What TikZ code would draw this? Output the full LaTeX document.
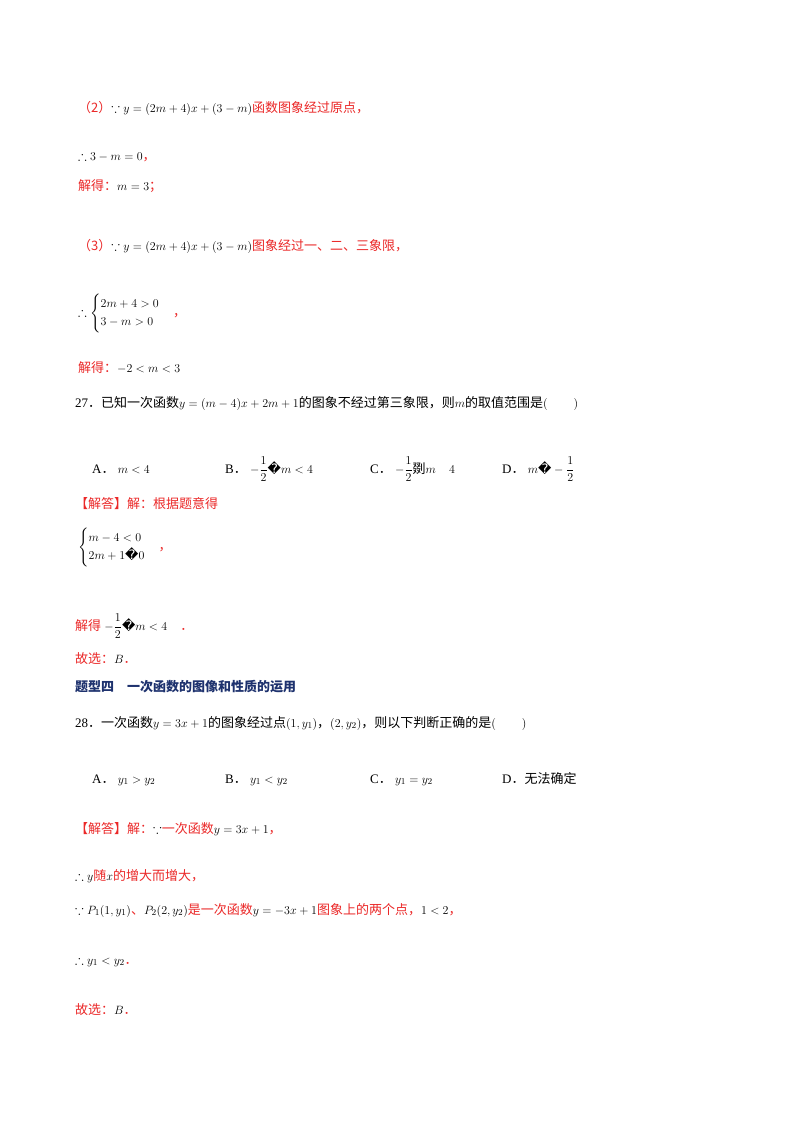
\documentclass[tikz,border=0pt]{standalone}
\usepackage{amsmath,amssymb}
\usepackage{fontspec}
\setmainfont{Liberation Serif}
\newfontfamily\cjk{Noto Sans CJK SC}
\newfontfamily\dvs{DejaVu Sans}
\definecolor{rd}{RGB}{235,40,40}
\definecolor{hb}{RGB}{30,50,110}
\newcommand{\zh}[1]{{\cjk #1}}
\newcommand{\bad}{\text{\dvs\char"FFFD}}
\begin{document}
\begin{tikzpicture}[x=1pt,y=-1pt,
  t/.style={anchor=base west,inner sep=0pt,font=\fontsize{13}{15}\selectfont},
  r/.style={t,text=rd}]
\useasboundingbox[fill=white] (0,0) rectangle (800,1132);
% (2)
\node[t] (l1) at (78,112) {\textcolor{rd}{\zh{（2）}}$\because y=(2m+4)x+(3-m)$\textcolor{rd}{\zh{函数图象经过原点，}}};
\node[t] (l2) at (78,160) {$\therefore 3-m=0$\textcolor{rd}{\zh{，}}};
\node[r] (l3) at (78,190) {\zh{解得：}\textcolor{black}{$m=3$}\zh{；}};
% (3)
\node[t] (l4) at (78,250) {\textcolor{rd}{\zh{（3）}}$\because y=(2m+4)x+(3-m)$\textcolor{rd}{\zh{图象经过一、二、三象限，}}};
\node[t] (l5) at (78,316) {$\therefore\begin{cases}2m+4>0\\3-m>0\end{cases}$\textcolor{rd}{\zh{，}}};
\node[r] (l6) at (78,372) {\zh{解得：}\textcolor{black}{$-2<m<3$}};
% 27
\node[t] (q27) at (75,407) {27\zh{．已知一次函数}$y=(m-4)x+2m+1$\zh{的图象不经过第三象限，则}$m$\zh{的取值范围是}$(\qquad)$};
\node[t] (a27) at (92,473) {A\zh{．}\ $m<4$};
\node[t] (b27) at (225,473) {B\zh{．}\ $-\dfrac12\bad m<4$};
\node[t] (c27) at (370,473) {C\zh{．}\ $-\dfrac12$\zh{剟}$m\quad 4$};
\node[t] (d27) at (502,473) {D\zh{．}\ $m\bad-\dfrac12$};
\node[r] (s1) at (75,508) {\zh{【解答】解：根据题意得}};
\node[t] (s2) at (78,550) {$\begin{cases}m-4<0\\2m+1\bad 0\end{cases}$\textcolor{rd}{\zh{，}}};
\node[r] (s3) at (75,630) {\zh{解得}\ \textcolor{black}{$-\dfrac12\bad m<4$}\quad\zh{．}};
\node[r] (s4) at (75,663) {\zh{故选：}\textcolor{black}{$B$}\zh{．}};
% heading
\node[t,text=hb] (h) at (75,691) {\cjk\bfseries 题型四\quad 一次函数的图像和性质的运用};
% 28
\node[t] (q28) at (75,727) {28\zh{．一次函数}$y=3x+1$\zh{的图象经过点}$(1,y_1)$\zh{，}$(2,y_2)$\zh{，则以下判断正确的是}$(\qquad)$};
\node[t] (a28) at (92,783) {A\zh{．}\ $y_1>y_2$};
\node[t] (b28) at (225,783) {B\zh{．}\ $y_1<y_2$};
\node[t] (c28) at (370,783) {C\zh{．}\ $y_1=y_2$};
\node[t] (d28) at (502,783) {D\zh{．无法确定}};
\node[r] (u1) at (75,833) {\zh{【解答】解：}\textcolor{black}{$\because$}\zh{一次函数}\textcolor{black}{$y=3x+1$}\zh{，}};
\node[r] (u2) at (75,880) {\textcolor{black}{$\therefore y$}\zh{随}\textcolor{black}{$x$}\zh{的增大而增大，}};
\node[r] (u3) at (75,914) {\textcolor{black}{$\because P_1(1,y_1)$}\zh{、}\textcolor{black}{$P_2(2,y_2)$}\zh{是一次函数}\textcolor{black}{$y=-3x+1$}\zh{图象上的两个点，}\textcolor{black}{$1<2$}\zh{，}};
\node[r] (u4) at (75,964) {\textcolor{black}{$\therefore y_1<y_2$}\zh{．}};
\node[r] (u5) at (75,1014) {\zh{故选：}\textcolor{black}{$B$}\zh{．}};
\end{tikzpicture}
\end{document}
